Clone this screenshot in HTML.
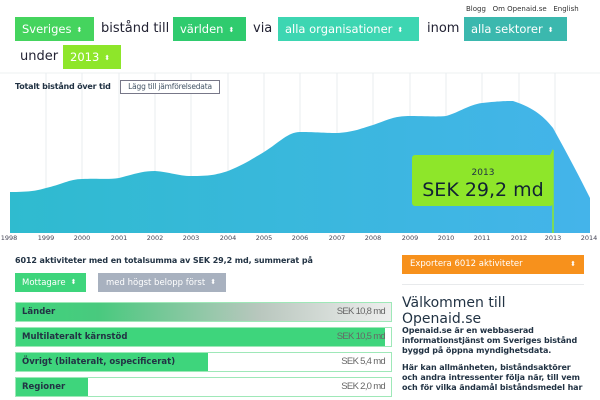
<!DOCTYPE html>
<html><head><meta charset="utf-8"><style>
body{margin:0;width:600px;height:400px;overflow:hidden;background:#fff;font-family:"DejaVu Sans","Liberation Sans",sans-serif;color:#222;position:relative}
.a{position:absolute;white-space:nowrap}
.btn{position:absolute;height:24px;line-height:24px;color:#fff;font-size:11.5px;padding-left:7px;box-sizing:border-box;white-space:nowrap;overflow:hidden}
.btn i{font-style:normal;font-size:7px;vertical-align:1px;margin-left:5px}
.w{position:absolute;font-size:13px;height:24px;line-height:24px;white-space:nowrap;color:#223}
.bar{position:absolute;left:15px;width:377px;height:20px;border:1px solid #9ee8b8;box-sizing:border-box;background:#fff}
.bar .f{position:absolute;left:0;top:0;bottom:0;background:#3ed57c}
.bar .l{position:absolute;left:6px;top:0;line-height:18px;font-size:8.5px;font-weight:bold;color:#234}
.bar .r{position:absolute;right:6px;top:0;line-height:18px;font-size:9.5px;color:#666;letter-spacing:-0.7px;font-family:"Liberation Sans",sans-serif}
</style></head><body>
<div class="a" style="left:466px;top:5px;font-size:7px;color:#333">Blogg&nbsp;&nbsp;&nbsp;Om Openaid.se&nbsp;&nbsp;&nbsp;English</div>
<div class="btn" style="left:15px;top:17px;width:79px;background:#45d45e">Sveriges<i>⬍</i></div>
<div class="w" style="left:101px;top:17px">bistånd till</div>
<div class="btn" style="left:173px;top:17px;width:73px;background:#2fcb6e">världen<i>⬍</i></div>
<div class="w" style="left:253px;top:17px">via</div>
<div class="btn" style="left:278px;top:17px;width:141px;background:#3dd6b2">alla organisationer<i>⬍</i></div>
<div class="w" style="top:17px;left:427px">inom</div>
<div class="btn" style="left:464px;top:17px;width:103px;background:#3bb8ae">alla sektorer<i>⬍</i></div>
<div class="w" style="left:20px;top:45px">under</div>
<div class="btn" style="left:63px;top:45px;width:58px;background:#8ee62a">2013<i>⬍</i></div>

<svg class="a" style="left:0;top:70px" width="600" height="175">
<defs><linearGradient id="g" x1="0" x2="1"><stop offset="0" stop-color="#2fbbcf"/><stop offset="1" stop-color="#44b4ea"/></linearGradient></defs>
<line x1="0" y1="3" x2="600" y2="3" stroke="#eef0f2"/>
<g stroke="#e8ecef">
<line x1="46" y1="3" x2="46" y2="162"/><line x1="82" y1="3" x2="82" y2="162"/><line x1="119" y1="3" x2="119" y2="162"/><line x1="155" y1="3" x2="155" y2="162"/><line x1="191" y1="3" x2="191" y2="162"/><line x1="228" y1="3" x2="228" y2="162"/><line x1="264" y1="3" x2="264" y2="162"/><line x1="300" y1="3" x2="300" y2="162"/><line x1="337" y1="3" x2="337" y2="162"/><line x1="373" y1="3" x2="373" y2="162"/><line x1="410" y1="3" x2="410" y2="162"/><line x1="446" y1="3" x2="446" y2="162"/><line x1="482" y1="3" x2="482" y2="162"/><line x1="519" y1="3" x2="519" y2="162"/><line x1="555" y1="3" x2="555" y2="162"/>
</g>
<path fill="url(#g)" d="M10,122 C28,122 36,121 46,118 C60,115 70,109 82,109 C100,108 105,110 119,108 C135,104 142,101 155,101 C170,102 178,106 191,106 C210,106 215,105 228,101 C245,94 252,89 264,82 C280,72 288,62 300,62 C318,62 322,63 337,63 C355,62 362,58 373,55 C390,49 395,46 410,46 C428,46 435,47 446,46 C460,42 468,35 482,33 C500,31 508,31 513,31 C535,38 545,48 553,58 C568,85 580,108 590,128 L590,163 L10,163 Z"/>
<line x1="553" y1="80" x2="553" y2="163" stroke="#8ee62a" stroke-width="1.5"/>
<rect x="412" y="85" width="141" height="51" rx="3" fill="#8ee62a"/>
<path d="M550,85 L553,79 L553,136 Z" fill="#8ee62a"/>
<text x="483" y="105" font-size="9" text-anchor="middle" fill="#234" font-family="DejaVu Sans">2013</text>
<text x="483" y="126" font-size="19" text-anchor="middle" fill="#123" font-family="DejaVu Sans">SEK 29,2 md</text>
<g font-size="6.5" fill="#445" font-family="DejaVu Sans" text-anchor="middle">
<text x="9" y="170">1998</text><text x="46" y="170">1999</text><text x="82" y="170">2000</text><text x="119" y="170">2001</text><text x="155" y="170">2002</text><text x="191" y="170">2003</text><text x="228" y="170">2004</text><text x="264" y="170">2005</text><text x="300" y="170">2006</text><text x="337" y="170">2007</text><text x="373" y="170">2008</text><text x="410" y="170">2009</text><text x="446" y="170">2010</text><text x="482" y="170">2011</text><text x="519" y="170">2012</text><text x="553" y="170">2013</text><text x="589" y="170">2014</text>
</g>
</svg>
<div class="a" style="left:15px;top:82px;font-size:8px;font-weight:bold;color:#234;letter-spacing:-0.2px">Totalt bistånd över tid</div>
<div class="a" style="left:120px;top:80px;width:100px;height:14px;box-sizing:border-box;border:1px solid #778;text-align:center;line-height:12px;font-size:7.5px;color:#456;background:#fff;letter-spacing:-0.2px">Lägg till jämförelsedata</div>

<div class="a" style="left:15px;top:256px;font-size:8px;font-weight:bold;color:#234;letter-spacing:-0.1px">6012 aktiviteter med en totalsumma av SEK 29,2 md, summerat på</div>
<div class="btn" style="left:15px;top:273px;width:71px;height:19px;line-height:19px;font-size:8.5px;background:#3ed57c">Mottagare<i>⬍</i></div>
<div class="btn" style="left:98px;top:273px;width:128px;height:19px;line-height:19px;font-size:8.5px;background:#a8b1bf;padding-left:8px">med högst belopp först<i>⬍</i></div>

<div class="bar" style="top:302px"><div class="f" style="width:100%;background:linear-gradient(90deg,#3ed57c 0%,#49c97e 22%,#b9c7be 65%,#eeeeee 100%)"></div><div class="l">Länder</div><div class="r">SEK 10,8 md</div></div>
<div class="bar" style="top:327px"><div class="f" style="width:369px"></div><div class="l">Multilateralt kärnstöd</div><div class="r">SEK 10,5 md</div></div>
<div class="bar" style="top:352px"><div class="f" style="width:192px"></div><div class="l">Övrigt (bilateralt, ospecificerat)</div><div class="r">SEK 5,4 md</div></div>
<div class="bar" style="top:377px"><div class="f" style="width:72px"></div><div class="l">Regioner</div><div class="r">SEK 2,0 md</div></div>

<div class="btn" style="left:402px;top:255px;width:182px;height:19px;line-height:19px;font-size:8.5px;background:#f7911c;padding-left:8px">Exportera 6012 aktiviteter<span style="position:absolute;right:8px;font-size:7px">⬍</span></div>
<div class="a" style="left:402px;top:284px;width:182px;border-top:1px solid #e8eaec"></div>
<div class="a" style="left:402px;top:295px;font-size:14px;line-height:16px;color:#234">Välkommen till<br>Openaid.se</div>
<div class="a" style="left:402px;top:326px;font-size:8px;line-height:9.8px;font-weight:bold;color:#234;letter-spacing:-0.1px">Openaid.se är en webbaserad<br>informationstjänst om Sveriges bistånd<br>byggd på öppna myndighetsdata.</div>
<div class="a" style="left:402px;top:363px;font-size:8px;line-height:9.8px;font-weight:bold;color:#234;letter-spacing:-0.1px">Här kan allmänheten, biståndsaktörer<br>och andra intressenter följa när, till vem<br>och för vilka ändamål biståndsmedel har</div>
</body></html>
